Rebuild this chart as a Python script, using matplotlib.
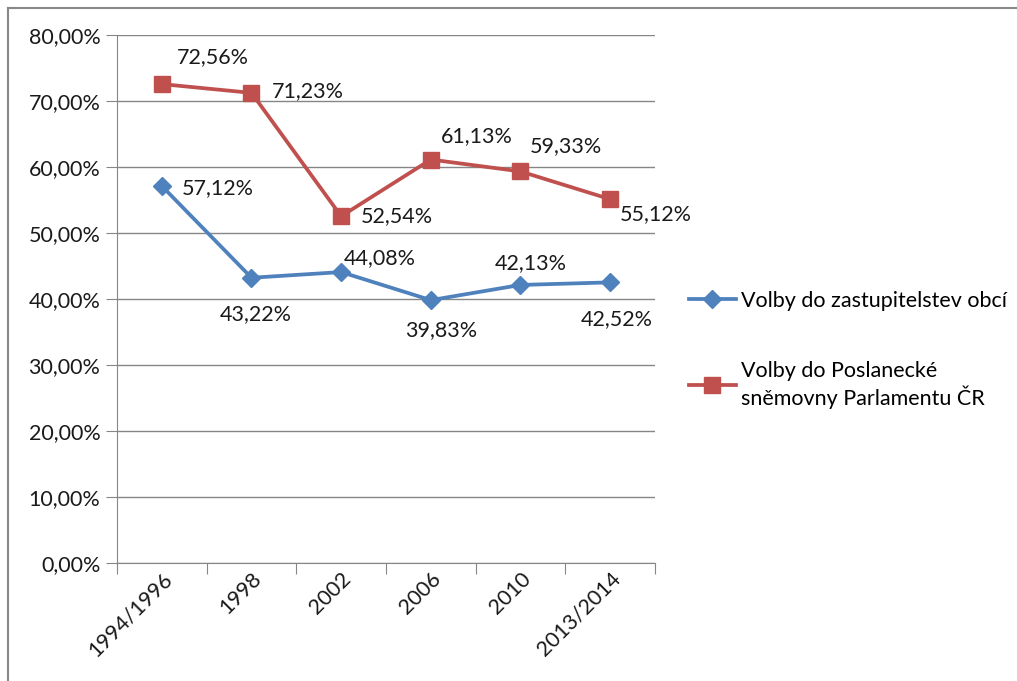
import numpy as np
import matplotlib
matplotlib.use("Agg")
import matplotlib.pyplot as plt
from matplotlib.lines import Line2D
from matplotlib.ticker import FuncFormatter, FixedLocator

plt.rcParams['font.family'] = ['Lato', 'DejaVu Sans']

# data
years = ['1994/1996', '1998', '2002', '2006', '2010', '2013/2014']
obce = [57.12, 43.22, 44.08, 39.83, 42.13, 42.52]
parlament = [72.56, 71.23, 52.54, 61.13, 59.33, 55.12]
name_obce = 'Volby do zastupitelstev obcí'
name_parl = 'Volby do Poslanecké\nsněmovny Parlamentu ČR'

# label offsets (pixels) from each point
off_obce = [(20, -2, 'left'), (4, -36, 'center'), (3, 14, 'left'),
            (10, -30, 'center'), (10, 22, 'center'), (7, -37, 'center')]
off_parl = [(15, 27, 'left'), (20, 2, 'left'), (20, 0, 'left'),
            (10, 23, 'left'), (9, 25, 'left'), (10, -15, 'left')]

blue = '#4F81BD'
red = '#C0504D'
grid = '#868686'
fs = 15.5

fig = plt.figure(figsize=(10.17, 6.81), dpi=100)
ax = fig.add_axes([117/1017, 118/681, 538/1017, 528/681])

x = np.arange(len(years))
ax.plot(x, obce, color=blue, lw=2.7, marker='D', ms=9, label=name_obce, zorder=3)
ax.plot(x, parlament, color=red, lw=2.7, marker='s', ms=11.5, label=name_parl, zorder=3)

def pct(v):
    return f'{v:.2f}%'.replace('.', ',')

for xi, v, (dx, dy, ha) in zip(x, obce, off_obce):
    ax.annotate(pct(v), (xi, v), xytext=(dx, dy), textcoords='offset pixels',
                ha=ha, va='center', fontsize=fs, color='#1a1a1a')
for xi, v, (dx, dy, ha) in zip(x, parlament, off_parl):
    ax.annotate(pct(v), (xi, v), xytext=(dx, dy), textcoords='offset pixels',
                ha=ha, va='center', fontsize=fs, color='#1a1a1a')

ax.set_xlim(-0.5, len(years) - 0.5)
ax.set_ylim(0, 80)
ax.set_yticks(np.arange(0, 81, 10))
ax.yaxis.set_major_formatter(FuncFormatter(lambda v, p: pct(v)))
ax.yaxis.grid(True, color=grid, lw=1)
ax.set_axisbelow(True)

# category boundaries as ticks, labels at centers
ax.xaxis.set_major_locator(FixedLocator(np.arange(-0.5, len(years), 1)))
ax.xaxis.set_minor_locator(FixedLocator(x))
ax.set_xticklabels([])
ax.set_xticklabels(years, minor=True, rotation=45, ha='right',
                   rotation_mode='anchor', fontsize=fs, color='#1a1a1a')
ax.tick_params(axis='x', which='major', length=8, color=grid)
ax.tick_params(axis='x', which='minor', length=0, pad=4)
ax.tick_params(axis='y', length=8, color=grid, labelsize=fs, pad=4,
               labelcolor='#1a1a1a')

for s in ['top', 'right']:
    ax.spines[s].set_visible(False)
for s in ['left', 'bottom']:
    ax.spines[s].set_color(grid)

fig.legend(loc='upper left', bbox_to_anchor=(680/1017, 1 - 282/681),
           frameon=False, fontsize=fs, labelspacing=2.35, handlelength=2.2,
           handletextpad=0.25, borderaxespad=0, borderpad=0.4)

# chart border
fig.add_artist(Line2D([8/1017, 8/1017], [0, 1 - 8/681], color='#888888', lw=1.5))
fig.add_artist(Line2D([8/1017, 1], [1 - 8/681, 1 - 8/681], color='#888888', lw=1.5))

fig.savefig('out.png', dpi=100)
